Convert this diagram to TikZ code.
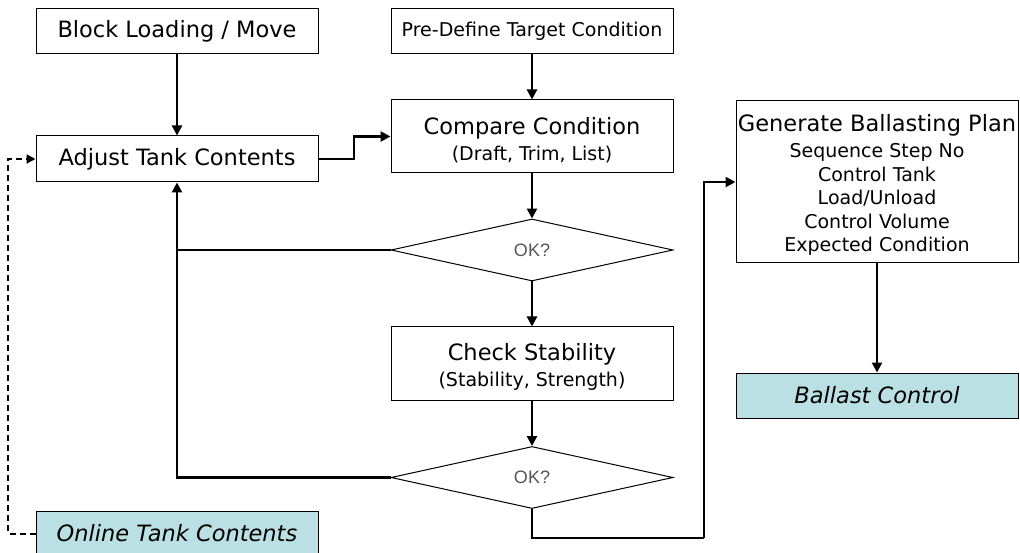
\documentclass[tikz,border=0pt]{standalone}
\usepackage{fontspec}
\setmainfont{DejaVu Sans}
\newfontfamily\okfont{Liberation Sans}
\usetikzlibrary{arrows.meta,shapes.geometric}
\definecolor{tealfill}{RGB}{187,224,227}
\definecolor{okgray}{RGB}{85,85,85}
\newcommand{\bigtxt}{\fontsize{22.5}{26}\selectfont}
\newcommand{\smalltxt}{\fontsize{19}{23}\selectfont}
\newcommand{\topstrut}[1]{\rule{0pt}{#1}}
\tikzset{
  box/.style={draw, line width=1pt, minimum width=282pt, inner sep=0pt, align=center, font=\bigtxt},
  datafill/.style={box, fill=tealfill, font=\bigtxt\itshape},
  decision/.style={draw, diamond, line width=1pt, minimum width=282pt, minimum height=62pt, inner sep=0pt, font=\okfont\fontsize{18}{20}\selectfont, text=okgray},
  flow/.style={line width=2.8pt, -{Triangle[length=10pt,width=10pt]}},
  plain/.style={line width=2.8pt},
  feed/.style={line width=2pt, dash pattern=on 6pt off 4pt, -{Triangle[length=9pt,width=9pt]}}
}
\begin{document}
\begin{tikzpicture}[x=1pt, y=-1pt]
\useasboundingbox (0,0) rectangle (1020,553);

% process boxes
\node[box, minimum height=45pt] (block) at (177,31.5) {Block Loading / Move};
\node[box, minimum height=46pt] (adjust) at (177,159) {Adjust Tank Contents};
\node[box, minimum height=45pt, font=\fontsize{19}{23}\selectfont] (predef) at (532,31.5) {Pre-Define Target Condition};
\node[box, minimum height=73pt] (compare) at (532,136.5) {\topstrut{24pt}Compare Condition\\[0pt] {\smalltxt (Draft, Trim, List)}};
\node[decision] (ok1) at (532,250) {OK?};
\node[box, minimum height=73pt] (check) at (532,363.5) {\topstrut{24pt}Check Stability\\[0pt] {\smalltxt (Stability, Strength)}};
\node[decision] (ok2) at (532,477.5) {OK?};
\node[box, minimum height=162pt] (gen) at (877,182) {\topstrut{23pt}Generate Ballasting Plan\\[0pt]
  {\smalltxt Sequence Step No}\\[-2.5pt]
  {\smalltxt Control Tank}\\[-2.5pt]
  {\smalltxt Load/Unload}\\[-2.5pt]
  {\smalltxt Control Volume}\\[-2.5pt]
  {\smalltxt Expected Condition}};
\node[datafill, minimum height=45pt] (ballast) at (877,395.5) {Ballast Control};
\node[datafill, minimum height=45pt] (online) at (177,533.5) {Online Tank Contents};

% helper corners
\coordinate (jog) at (354,159);
\coordinate (turn) at (704,538);
\coordinate (feedcorner) at (8,533.5);

% connectors
\draw[flow] (block) -- (adjust);
\draw[flow] (predef) -- (compare);
\draw[flow] (adjust.east) -- (jog) |- (compare.west);
\draw[flow] (compare) -- (ok1);
\draw[flow] (ok1) -- (check);
\draw[flow] (check) -- (ok2);
\draw[flow] (ok1.west) -| (adjust.south);
\draw[plain] (ok2.west) -| (ok1.west -| adjust.south);
\draw[plain] (ok2.south) |- (turn);
\draw[flow] (turn) |- (gen.west);
\draw[flow] (gen) -- (ballast);
\draw[feed] (online.west) -- (feedcorner) |- (adjust.west);
\end{tikzpicture}
\end{document}
